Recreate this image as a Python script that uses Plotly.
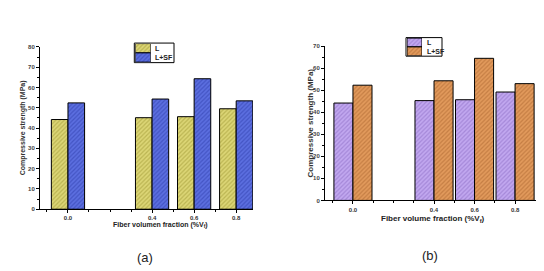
import plotly.graph_objects as go

# Data
fractions = [0.0, 0.4, 0.6, 0.8]
tick_labels = ["0.0", "0.4", "0.6", "0.8"]
a_L = [44.2, 45.1, 45.6, 49.5]
a_LSF = [52.4, 54.3, 64.3, 53.4]
b_L = [44.2, 45.3, 45.7, 49.2]
b_LSF = [52.3, 54.3, 64.5, 53.0]
series_names = ["L", "L+SF"]

W, H = 544, 271
FONT = "Liberation Sans"

COLS_A = [("#dcd676", "#9a9430"), ("#5c6fe0", "#2c3ca8")]
COLS_B = [("#c2a8f0", "#8868c0"), ("#e29a5c", "#a8622c")]

fig = go.Figure()

def pat(bg, fg):
    return dict(color=bg, line=dict(color="black", width=1),
                pattern=dict(shape="/", fgcolor=fg, bgcolor=bg, size=3, solidity=0.4))

def bars(x, y, name, cols, width, offset, xa, ya):
    fig.add_trace(go.Bar(x=x, y=y, name=name, width=width, offset=offset,
                         xaxis=xa, yaxis=ya, marker=pat(*cols), showlegend=False))

wa = 0.079
bars(fractions, a_L, series_names[0], COLS_A[0], wa, -wa, "x", "y")
bars(fractions, a_LSF, series_names[1], COLS_A[1], wa, 0, "x", "y")
wb = 0.094
bars(fractions, b_L, series_names[0], COLS_B[0], wb, -wb, "x2", "y2")
bars(fractions, b_LSF, series_names[1], COLS_B[1], wb, 0, "x2", "y2")

# legend swatches (hatched) drawn on small helper axes
for cols, xa, ya in [(COLS_A, "x3", "y3"), (COLS_B, "x4", "y4")]:
    for i, c in enumerate(cols):
        fig.add_trace(go.Bar(x=[1], y=[1.5 - i], orientation="h", width=1, base=0,
                             xaxis=xa, yaxis=ya, marker=pat(*c), showlegend=False,
                             hoverinfo="skip"))

minor_x = [-0.1, 0.1, 0.2, 0.3, 0.5, 0.7]

def xaxis_cfg(domain, rng):
    return dict(domain=domain, range=rng, showline=True, linecolor="black", linewidth=1,
                tickvals=fractions, ticktext=tick_labels, ticks="outside", ticklen=3,
                tickcolor="black", showgrid=False, zeroline=False,
                tickfont=dict(family=FONT, size=6, color="#333", weight="bold"),
                minor=dict(tickvals=minor_x, ticks="outside", ticklen=2, tickcolor="black"))

def yaxis_cfg(domain, rng, anchor):
    return dict(domain=domain, range=rng, anchor=anchor, showline=True, linecolor="black",
                linewidth=1, dtick=10, ticks="outside", ticklen=3, tickcolor="black",
                showgrid=False, zeroline=False,
                tickfont=dict(family=FONT, size=6, color="#444", weight="bold"),
                minor=dict(dtick=5, ticks="outside", ticklen=2, tickcolor="black"))

def hidden(domain, rng, anchor):
    return dict(domain=domain, range=rng, anchor=anchor, visible=False, fixedrange=True,
                showgrid=False, zeroline=False, showticklabels=False)

LA = dict(x0=127.3, x1=142.7, y0=33.3, y1=52.3, box_r=166)
LB = dict(x0=399.0, x1=414.0, y0=27.7, y1=45.7, box_r=434)

fig.update_layout(
    width=W, height=H, margin=dict(l=0, r=0, t=0, b=0),
    paper_bgcolor="white", plot_bgcolor="white", barmode="overlay",
    showlegend=False,
    xaxis=xaxis_cfg([32/W, 245/W], [-0.133, 0.88]) | dict(anchor="y"),
    yaxis=yaxis_cfg([1-202.7/H, 1-36.7/H], [0, 80], "x"),
    xaxis2=xaxis_cfg([317/W, 532/W], [-0.138, 0.923]) | dict(anchor="y2"),
    yaxis2=yaxis_cfg([1-193.7/H, 1-36/H], [0, 70], "x2"),
    xaxis3=hidden([LA["x0"]/W, LA["x1"]/W], [0, 1], "y3"),
    yaxis3=hidden([1-LA["y1"]/H, 1-LA["y0"]/H], [0, 2], "x3"),
    xaxis4=hidden([LB["x0"]/W, LB["x1"]/W], [0, 1], "y4"),
    yaxis4=hidden([1-LB["y1"]/H, 1-LB["y0"]/H], [0, 2], "x4"),
)

for L, fs in [(LA, 7), (LB, 7)]:
    fig.add_shape(type="rect", xref="paper", yref="paper",
                  x0=(L["x0"]-1)/W, x1=L["box_r"]/W, y0=1-(L["y1"]+0.5)/H, y1=1-(L["y0"]-0.5)/H,
                  line=dict(color="black", width=1), fillcolor="rgba(0,0,0,0)", layer="below")
    hh = (L["y1"] - L["y0"]) / 2
    for i, nm in enumerate(series_names):
        fig.add_annotation(xref="paper", yref="paper", showarrow=False,
                           x=(L["x1"] + 2.5)/W, y=1-(L["y0"] + hh*(i+0.5))/H,
                           xanchor="left", yanchor="middle", text=nm,
                           font=dict(family=FONT, size=fs, color="#222", weight="bold"))

ann = [
    dict(text="Compressive strength (MPa)", x=15/W, y=1-120/H, textangle=-90,
         font=dict(family=FONT, size=7, color="#333", weight="bold")),
    dict(text="Fiber volumen fraction (%V<sub>f</sub>)", x=152/W, y=1-219/H,
         font=dict(family=FONT, size=7, color="#222", weight="bold")),
    dict(text="Compressive strength (MPa)", x=302/W, y=1-115/H, textangle=-90,
         font=dict(family=FONT, size=8, color="#333", weight="bold")),
    dict(text="Fiber volume fraction (%V<sub>f</sub>)", x=425/W, y=1-213/H,
         font=dict(family=FONT, size=8, color="#222", weight="bold")),
    dict(text="(a)", x=137/W, y=1-252/H, font=dict(family=FONT, size=13, color="#222")),
    dict(text="(b)", x=422/W, y=1-250/H, font=dict(family=FONT, size=13, color="#222")),
]
for a in ann:
    fig.add_annotation(xref="paper", yref="paper", showarrow=False,
                       xanchor="center", yanchor="middle", **a)

fig.write_html("out.html")
